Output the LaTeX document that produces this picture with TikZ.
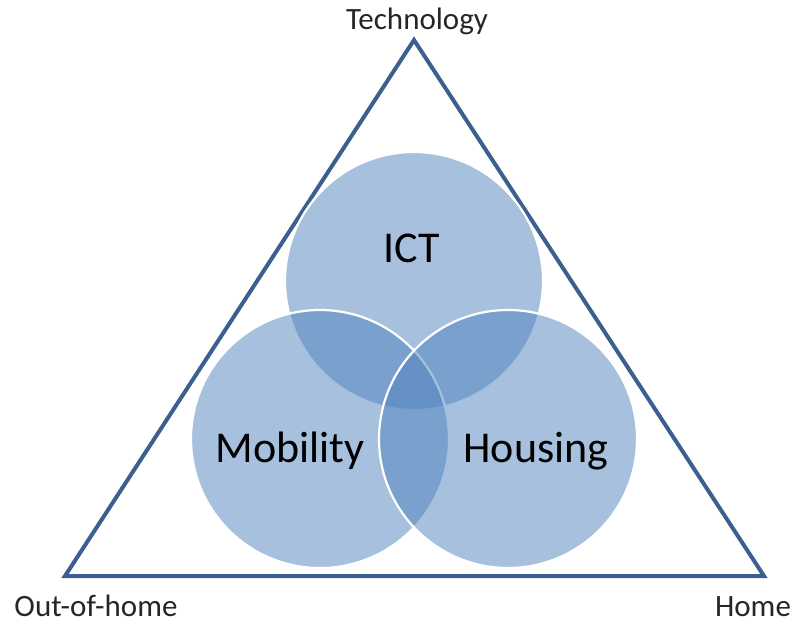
\documentclass[tikz,border=0pt]{standalone}
\usepackage{fontspec}
\setmainfont{Carlito}
\definecolor{vennblue}{HTML}{4F81BD}
\definecolor{triblue}{HTML}{3B5F8E}
\begin{document}
\begin{tikzpicture}[x=1pt,y=-1pt,
  venn/.style={circle, minimum size=258pt, inner sep=0pt, fill=vennblue, fill opacity=0.5, draw=white, draw opacity=1, line width=2.2pt},
  tri/.style={draw=triblue, line width=4pt, line join=miter},
  small/.style={font=\fontsize{31}{36}\selectfont, anchor=base, inner sep=0pt, text=black!85},
  big/.style={font=\fontsize{44}{50}\selectfont, anchor=base, inner sep=0pt, text=black}]
\useasboundingbox (0,0) rectangle (794,626);
\coordinate (top) at (414,40);
\coordinate (bl) at (65,576);
\coordinate (br) at (764,576);
\draw[tri] (top) -- (br) -- (bl) -- cycle;
\node[venn] (ict) at (414,281) {};
\node[venn] (mob) at (320,439) {};
\node[venn] (hou) at (508,439) {};
\node[big] (ictl) at (412,262) {ICT};
\node[big] (mobl) at (290,462) {Mobility};
\node[big] (houl) at (536,462) {Housing};
\node[small] (tech) at (417,30) {Technology};
\node[small] (out) at (96,616) {Out-of-home};
\node[small] (home) at (753,616) {Home};
\end{tikzpicture}
\end{document}
